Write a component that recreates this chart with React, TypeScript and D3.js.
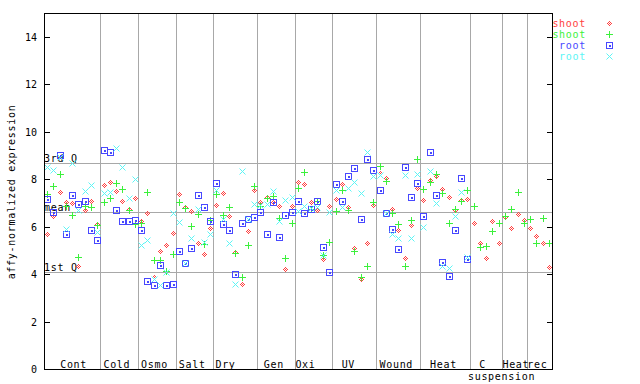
import React from "react";
import * as d3 from "d3";

// ---- data ----
const groupLabels = ["Cont", "Cold", "Osmo", "Salt", "Dry", "Gen", "Oxi", "UV", "Wound", "Heat", "C", "Heat", "rec"];
const groupLabelPos = [4.72, 11.62, 17.63, 23.63, 28.94, 36.64, 41.69, 48.53, 56.17, 63.71, 69.95, 75.24, 78.68];
const subLabels = ["suspension"];
const subLabelPos = [72.96];
const groupSizes = [9, 6, 6, 6, 7, 6, 6, 7, 7, 8, 5, 4, 4];

const shootA = [
  5.67, 6.43, 7.44, 7.04, 6.99, 4.34, 6.69, 7.06, 6.12,
  7.74, 7.87, 7.51, 7.06, 6.73, 7.19,
  6.24, 6.56, 3.89, 4.96, 5.21, 5.72,
  7.37, 6.83, 6.66, 5.29, 4.83, 5.93,
  6.89, 7.40, 6.43, 4.92, 3.57, 5.80, 7.53,
  7.02, 7.25, 7.02, 6.86, 4.20, 6.87,
  7.88, 7.79, 7.02, 6.69, 4.65, 6.85,
  7.15, 7.78, 6.83, 5.08, 3.81, 5.29, 6.90,
  8.27, 8.06, 6.73, 5.86, 4.66, 6.08, 7.61,
  7.11, 7.96, 8.12, 7.58, 7.23, 6.69, 7.11, 7.15,
  6.14, 5.29, 4.66, 6.22, 5.29,
  6.42, 5.93, 6.52, 6.26,
  5.93, 5.59, 5.29, 4.28,
];
const shootB = [
  7.39, 7.70, 8.22, 6.85, 6.50, 4.70, 6.85, 6.81, 6.05,
  7.04, 7.20, 7.84, 7.57, 6.71, 6.12,
  6.14, 7.44, 4.58, 4.58, 4.12, 4.86,
  7.04, 6.77, 6.01, 6.53, 5.25, 6.28,
  7.36, 6.50, 6.81, 4.87, 3.89, 5.21, 7.70,
  6.85, 7.20, 7.27, 6.35, 4.66, 6.14,
  7.61, 8.29, 6.73, 7.06, 4.79, 5.34,
  6.64, 7.53, 6.70, 4.99, 3.86, 4.33, 7.02,
  8.55, 7.91, 6.57, 6.10, 4.33, 6.26, 8.83,
  7.57, 7.88, 8.22, 7.40, 6.14, 6.73, 7.06, 7.53,
  6.85, 5.13, 5.17, 5.80, 6.14,
  6.45, 6.73, 7.44, 6.14,
  6.31, 5.29, 6.35, 5.29,
];
const rootA = [
  7.15, 6.62, 9.00, 5.67, 7.33, 6.95, 7.06, 5.86, 5.44,
  9.23, 9.13, 6.69, 6.24, 6.24, 6.26,
  5.84, 3.69, 3.53, 4.37, 3.53, 3.57,
  4.96, 4.45, 5.08, 7.32, 6.81, 6.22,
  7.82, 6.10, 5.84, 3.99, 6.14, 6.31, 6.39,
  6.60, 5.67, 7.02, 5.55, 6.47, 6.63,
  7.07, 6.56, 6.73, 7.06, 5.13, 4.07,
  7.78, 7.06, 8.12, 8.46, 6.31, 8.83, 8.37,
  7.53, 6.59, 5.88, 5.04, 8.50, 7.23, 7.82,
  6.43, 9.13, 7.32, 4.49, 3.90, 5.84, 8.03, 4.62,
  null, null, null, null, null,
  null, null, null, null,
  null, null, null, null,
];
const rootB = [
  8.50, 8.38, 8.95, 5.90, 8.69, 6.70, 7.49, 7.75, 5.76,
  7.42, 7.46, 9.31, 8.50, 7.19, 7.99,
  5.21, 5.44, 3.79, 3.53, 4.07, 6.56,
  6.19, 4.45, 5.51, 6.73, 5.35, 5.67,
  7.54, 6.30, 5.29, 3.57, 8.33, 6.31, 6.94,
  6.90, 6.95, 7.49, 6.22, 7.11, 7.23,
  6.64, 6.85, 6.78, 6.84, 4.79, 6.60,
  7.53, 6.84, 7.61, 7.88, 7.40, 9.13, 8.13,
  8.17, 6.59, 5.67, 5.51, 8.17, 5.51, 8.20,
  5.97, 8.33, 6.98, 4.35, 4.24, 6.43, 7.44, 4.70,
  null, null, null, null, null,
  null, null, null, null,
  null, null, null, null,
];

const seriesNames = ["shoot", "shoot", "root", "root"];
const seriesColors = ["#ff4040", "#3cf03c", "#4848ff", "#5cf5f5"];
const seriesShapes = ["diamond", "plus", "square", "cross"];

const yTicks = [0, 2, 4, 6, 8, 10, 12, 14];
const refLabels = ["3rd Q", "mean", "1st Q"];
const refValues = [8.67, 6.6, 4.07];

// ---- layout ----
const W = 640;
const H = 384;
const L = 44, R = 552, T = 13, B = 369;
const FONT = "'DejaVu Sans Mono', 'Liberation Mono', monospace";
const GRID = "#a8a8a8";

const nSlots = groupSizes.reduce((a, b) => a + b, 0);
const x = d3.scaleLinear().domain([0, nSlots]).range([L, R]);
const y = d3.scaleLinear().domain([0, 15]).range([B, T]);

function Marker({ shape, cx, cy, color }: { shape: string; cx: number; cy: number; color: string }) {
  const px = Math.round(cx);
  const py = Math.round(cy);
  if (shape === "diamond") {
    const pts = [[0, -2], [-1, -1], [1, -1], [-2, 0], [0, 0], [2, 0], [-1, 1], [1, 1], [0, 2]];
    return (
      <g fill={color}>
        {pts.map((p, i) => (
          <rect key={i} x={px + p[0]} y={py + p[1]} width={1} height={1} />
        ))}
      </g>
    );
  }
  if (shape === "plus") {
    return (
      <g stroke={color} strokeWidth={1} shapeRendering="crispEdges">
        <line x1={px - 3} x2={px + 4} y1={py + 0.5} y2={py + 0.5} />
        <line x1={px + 0.5} x2={px + 0.5} y1={py - 3} y2={py + 4} />
      </g>
    );
  }
  if (shape === "square") {
    return (
      <g shapeRendering="crispEdges">
        <rect x={px - 2.5} y={py - 2.5} width={6} height={6} fill="none" stroke={color} strokeWidth={1} />
        <rect x={px - 0} y={py - 0} width={2} height={2} fill={color} />
      </g>
    );
  }
  return (
    <g stroke={color} strokeWidth={1}>
      <line x1={px - 2.5} y1={py - 2.5} x2={px + 3.5} y2={py + 3.5} />
      <line x1={px + 3.5} y1={py - 2.5} x2={px - 2.5} y2={py + 3.5} />
    </g>
  );
}

export default function App() {
  const allSeries = [shootA, shootB, rootA, rootB];
  const boundaries: number[] = [];
  let acc = 0;
  groupSizes.forEach((s) => {
    acc += s;
    boundaries.push(acc);
  });

  return (
    <div style={{ position: "absolute", left: 0, top: 0, width: W, height: H, background: "#fff" }}>
      <svg width={W} height={H} style={{ display: "block" }} fontFamily={FONT}>
        <rect x={0} y={0} width={W} height={H} fill="#fff" />
        {/* group separators */}
        <g stroke={GRID} strokeWidth={1} shapeRendering="crispEdges">
          {boundaries.slice(0, -1).map((b, i) => (
            <line key={i} x1={Math.round(x(b)) + 0.5} x2={Math.round(x(b)) + 0.5} y1={T} y2={B} />
          ))}
          {refValues.map((v, i) => (
            <line key={"r" + i} x1={L} x2={R} y1={Math.round(y(v)) + 0.5} y2={Math.round(y(v)) + 0.5} />
          ))}
        </g>
        {/* reference labels */}
        {refValues.map((v, i) => (
          <text key={i} x={L} y={Math.round(y(v)) - 1} fontSize={10} letterSpacing={0.7} fill="#000">
            {refLabels[i]}
          </text>
        ))}
        {/* data */}
        {allSeries.map((vals, si) => (
          <g key={si}>
            {vals.map((v, i) =>
              v == null ? null : (
                <Marker key={i} shape={seriesShapes[si]} cx={x(i + 0.5)} cy={y(v)} color={seriesColors[si]} />
              )
            )}
          </g>
        ))}
        {/* frame */}
        <rect x={L + 0.5} y={T + 0.5} width={R - L} height={B - T} fill="none" stroke="#000" strokeWidth={1} shapeRendering="crispEdges" />
        {/* ticks */}
        <g stroke="#000" strokeWidth={1} shapeRendering="crispEdges">
          {yTicks.map((t) => (
            <g key={t}>
              <line x1={L} x2={L + 6} y1={Math.round(y(t)) + 0.5} y2={Math.round(y(t)) + 0.5} />
              <line x1={R - 5} x2={R} y1={Math.round(y(t)) + 0.5} y2={Math.round(y(t)) + 0.5} />
            </g>
          ))}
        </g>
        {yTicks.map((t) => (
          <text key={t} x={37} y={y(t) + 4} fontSize={10} textAnchor="end" fill="#000">
            {t}
          </text>
        ))}
        {/* y title */}
        <text
          transform={`translate(15, ${(T + B) / 2 + 1}) rotate(-90)`}
          fontSize={10}
          letterSpacing={0.7}
          textAnchor="middle"
          fill="#000"
        >
          affy-normalized expression
        </text>
        {/* group labels */}
        {groupLabels.map((g, i) => (
          <text key={i} x={x(groupLabelPos[i])} y={B - 1.5} fontSize={10} letterSpacing={0.7} textAnchor="middle" fill="#000">
            {g}
          </text>
        ))}
        {subLabels.map((g, i) => (
          <text key={i} x={x(subLabelPos[i])} y={B + 11} fontSize={10} letterSpacing={0.7} textAnchor="middle" fill="#000">
            {g}
          </text>
        ))}
        {/* legend */}
        {seriesNames.map((n, i) => (
          <g key={i}>
            <text x={586} y={27 + i * 11} fontSize={10} letterSpacing={0.7} textAnchor="end" fill={seriesColors[i]}>
              {n}
            </text>
            <Marker shape={seriesShapes[i]} cx={609} cy={23 + i * 11} color={seriesColors[i]} />
          </g>
        ))}
      </svg>
    </div>
  );
}
